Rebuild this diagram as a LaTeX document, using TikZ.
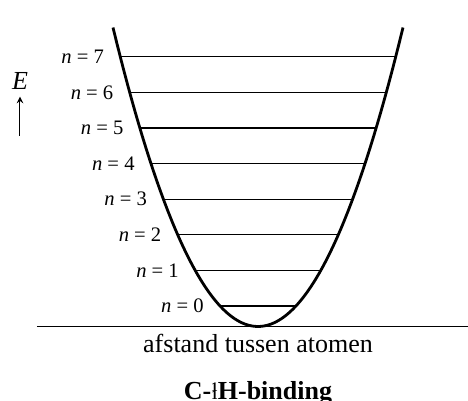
\documentclass[tikz,border=0pt]{standalone}
\usepackage{fontspec}
\setmainfont{Liberation Serif}
\usetikzlibrary{positioning}
\newcommand\isotoop[1]{{\fontsize{6.5}{7}\selectfont\rlap{\raisebox{4.4pt}{#1}}#1}}
\begin{document}
\begin{tikzpicture}[
      x=0.5pt, y=-0.5pt,
      well/.style={line width=1.4pt},
      level/.style={line width=0.6pt},
      lbl/.style={inner sep=0pt, font=\fontsize{10.3}{12}\selectfont},
      big/.style={font=\fontsize{13}{15}\selectfont},
      >=stealth
    ]
    \useasboundingbox (0,0) rectangle (468,401);
    \draw[well] plot[domain=-14.5:14.5, samples=80] ({258+10*\x}, {326.5-1.422*\x*\x});
    \foreach \n in {0,...,7} {
      \pgfmathsetmacro\yy{306-35.6*\n}
      \pgfmathsetmacro\dx{10*sqrt((326.5-\yy)/1.422)}
      \coordinate (l\n) at ({258-\dx},\yy);
      \coordinate (r\n) at ({258+\dx},\yy);
      \draw[level] (l\n) -- (r\n);
      \node[lbl, left=8pt of l\n] (n\n) {\textit{n} = \n};
    }
    \coordinate (axl) at (37,326.5);
    \coordinate (axr) at (468,326.5);
    \draw[level] (axl) -- (axr);
    \node[big, anchor=base] (afstand) at (258,353) {afstand tussen atomen};
    \node[big, anchor=base] (titel) at (258,400) {\bfseries C-\isotoop{1}H-binding};
    \node[big] (E) at (20,81) {\textit{E}};
    \coordinate (Evoet) at (20,136);
    \draw[->, line width=0.5pt] (Evoet) -- (E.south);
  \end{tikzpicture}
\end{document}
